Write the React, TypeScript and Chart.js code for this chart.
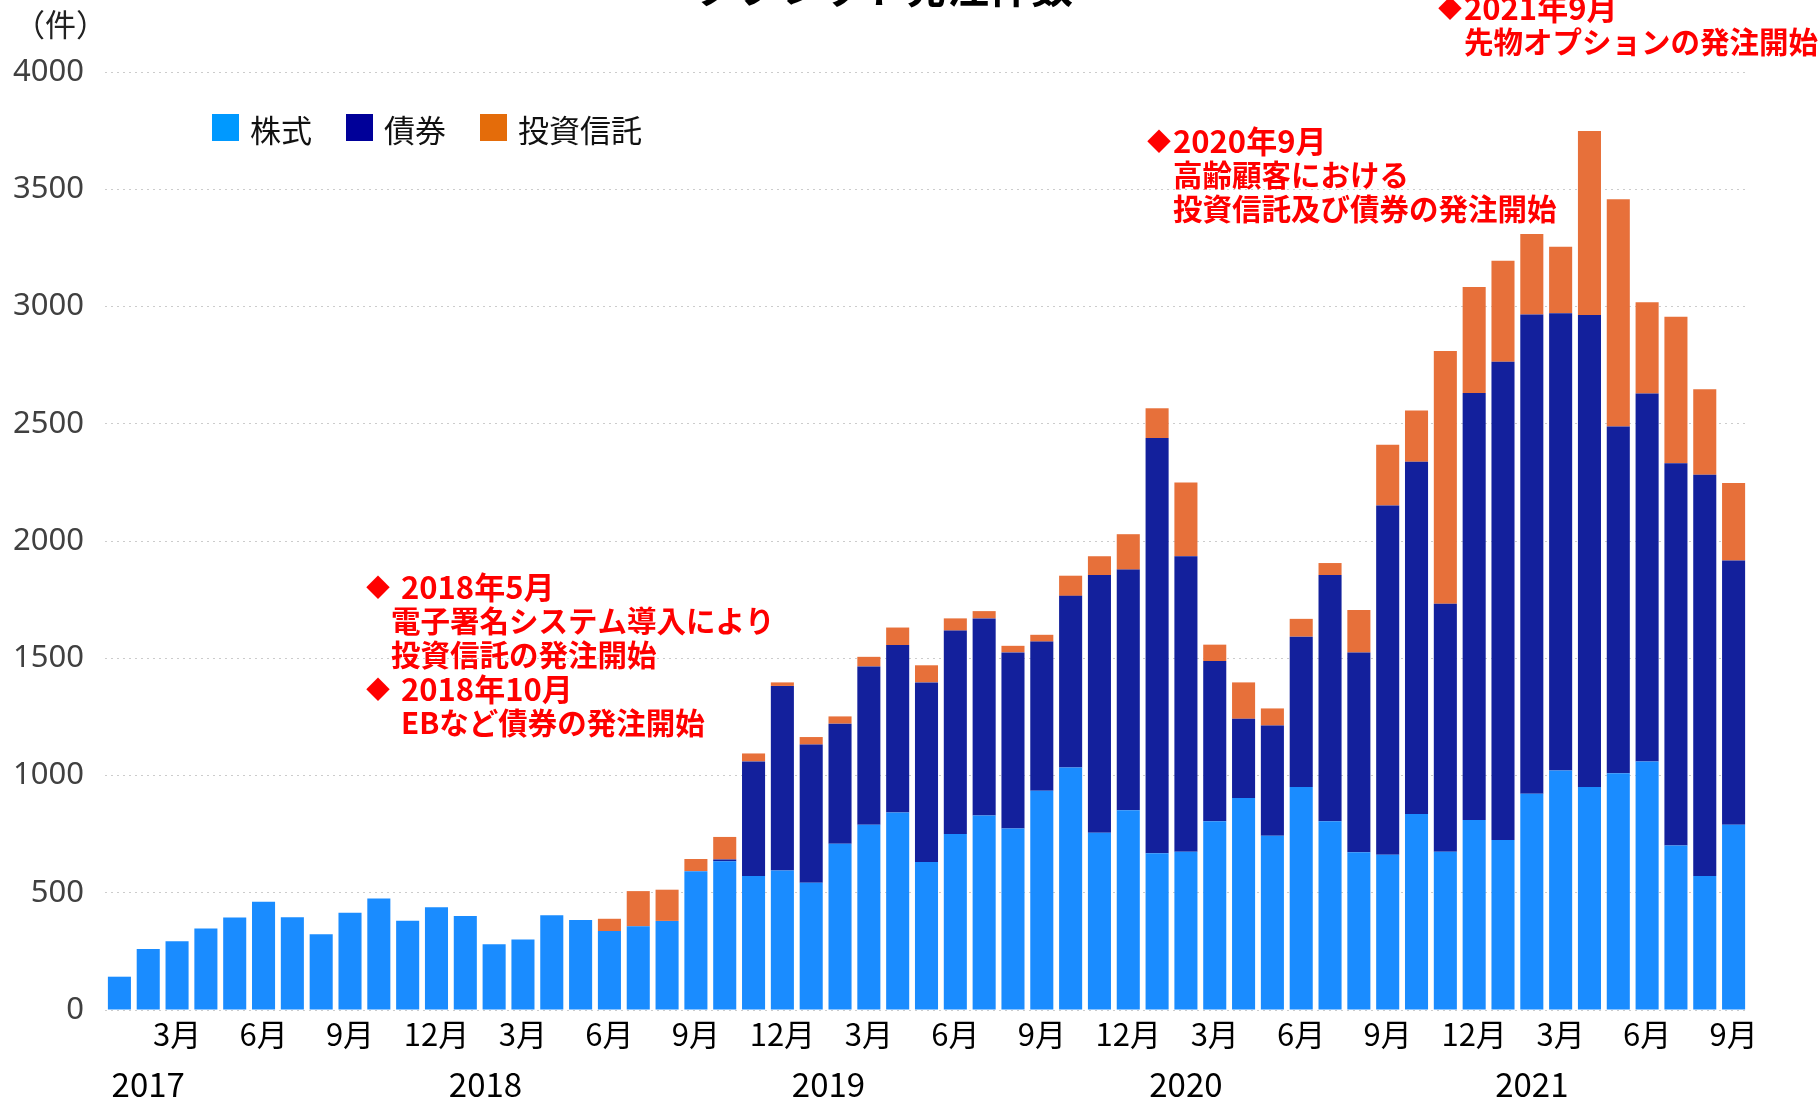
import React, { useEffect, useRef } from 'react';
import { Chart, registerables } from 'chart.js';

Chart.register(...registerables);

// ---- data ----
const categories = [
  '2017/1', '2017/2', '2017/3', '2017/4', '2017/5', '2017/6', '2017/7', '2017/8', '2017/9', '2017/10', '2017/11', '2017/12',
  '2018/1', '2018/2', '2018/3', '2018/4', '2018/5', '2018/6', '2018/7', '2018/8', '2018/9', '2018/10', '2018/11', '2018/12',
  '2019/1', '2019/2', '2019/3', '2019/4', '2019/5', '2019/6', '2019/7', '2019/8', '2019/9', '2019/10', '2019/11', '2019/12',
  '2020/1', '2020/2', '2020/3', '2020/4', '2020/5', '2020/6', '2020/7', '2020/8', '2020/9', '2020/10', '2020/11', '2020/12',
  '2021/1', '2021/2', '2021/3', '2021/4', '2021/5', '2021/6', '2021/7', '2021/8', '2021/9',
];

const stockCounts = [
  142, 260, 293, 348, 394, 462, 395, 323, 415, 476, 381, 438,
  401, 280, 301, 404, 384, 337, 357, 380, 592, 634, 571, 595,
  543, 709, 790, 842, 631, 751, 829, 774, 935, 1034, 756, 852,
  668, 675, 805, 904, 743, 951, 805, 673, 662, 836, 675, 810,
  725, 922, 1021, 951, 1010, 1060, 701, 571, 790,
];

const bondCounts = [
  0, 0, 0, 0, 0, 0, 0, 0, 0, 0, 0, 0,
  0, 0, 0, 0, 0, 0, 0, 0, 0, 8, 489, 787,
  589, 512, 675, 714, 766, 867, 841, 751, 636, 732, 1099, 1026,
  1771, 1260, 683, 338, 470, 641, 1050, 852, 1489, 1502, 1057, 1821,
  2039, 2044, 1950, 2013, 1478, 1569, 1631, 1712, 1127,
];

const fundCounts = [
  0, 0, 0, 0, 0, 0, 0, 0, 0, 0, 0, 0,
  0, 0, 0, 0, 0, 52, 150, 133, 52, 96, 34, 15,
  32, 31, 41, 75, 73, 52, 31, 28, 29, 86, 80, 151,
  127, 314, 70, 155, 73, 76, 51, 181, 259, 218, 1078, 452,
  431, 343, 284, 784, 969, 389, 624, 364, 330,
];

const seriesNames = ['株式', '債券', '投資信託'];
const yearLabels = ['2017', '2018', '2019', '2020', '2021'];
const yMin = 0;
const yMax = 4000;
const yStep = 500;
const titleText = 'タブレット発注件数';
const unitText = '（件）';

const annotationBlocks = [
  {
    x: 366, y: 587,
    lines: [
      { mark: '◆', text: '2018年5月', date: true },
      { mark: '', text: '電子署名システム導入により', date: false },
      { mark: '', text: '投資信託の発注開始', date: false },
      { mark: '◆', text: '2018年10月', date: true },
      { mark: '', text: 'EBなど債券の発注開始', date: true },
    ],
  },
  {
    x: 1147, y: 141,
    lines: [
      { mark: '◆', text: '2020年9月', date: true },
      { mark: '', text: '高齢顧客における', date: false },
      { mark: '', text: '投資信託及び債券の発注開始', date: false },
    ],
  },
  {
    x: 1438, y: 8,
    lines: [
      { mark: '◆', text: '2021年9月', date: true },
      { mark: '', text: '先物オプションの発注開始', date: false },
    ],
  },
];

// ---- styles ----
const barColors = ['#1A8CFF', '#13209C', '#E7703A'];
const legendColors = ['#0099FF', '#000099', '#E46C0A'];
const CJK = '"Noto Sans CJK JP", "Noto Sans", sans-serif';
const yearAnchorIndex = [1, 12.7, 24.6, 37, 49];

const overlayPlugin = {
  id: 'overlay',
  afterDraw(chart: any) {
    const ctx = chart.ctx as CanvasRenderingContext2D;
    const xs = chart.scales.x;
    ctx.save();

    // title (cut off at the top as in the reference)
    ctx.font = `bold 42px ${CJK}`;
    ctx.fillStyle = '#000';
    ctx.textAlign = 'center';
    ctx.textBaseline = 'alphabetic';
    ctx.fillText(titleText, 884, 3);

    // unit label
    ctx.font = `31px ${CJK}`;
    ctx.fillStyle = '#222';
    ctx.textAlign = 'left';
    ctx.textBaseline = 'middle';
    ctx.fillText(unitText, 14, 24);

    // legend
    const legendX = [212, 346, 480];
    ctx.font = `31px ${CJK}`;
    seriesNames.forEach((name, i) => {
      ctx.fillStyle = legendColors[i];
      ctx.fillRect(legendX[i], 114, 27, 27);
      ctx.fillStyle = '#111';
      ctx.fillText(name, legendX[i] + 38, 130);
    });

    // year labels
    ctx.font = `33px ${CJK}`;
    ctx.fillStyle = '#000';
    ctx.textAlign = 'center';
    yearLabels.forEach((yl, i) => {
      ctx.fillText(yl, xs.getPixelForValue(yearAnchorIndex[i]), 1084);
    });

    // annotations
    ctx.fillStyle = '#FF0000';
    ctx.textAlign = 'left';
    ctx.textBaseline = 'middle';
    annotationBlocks.forEach((b) => {
      const indent = b.x < 1000 ? 35 : 26;
      const indent2 = b.x < 1000 ? 25 : 26;
      b.lines.forEach((ln, j) => {
        const yy = b.y + j * 34;
        if (ln.mark) {
          ctx.font = `bold 24px ${CJK}`;
          ctx.fillText(ln.mark, b.x, yy);
        }
        ctx.font = ln.date && ln.mark ? `bold 31px ${CJK}` : `bold 29.5px ${CJK}`;
        ctx.fillText(ln.text, b.x + (ln.date ? indent : indent2), yy);
      });
    });

    ctx.restore();
  },
};

export default function App() {
  const canvasRef = useRef<HTMLCanvasElement | null>(null);

  useEffect(() => {
    document.body.style.margin = '0';
    document.body.style.overflow = 'hidden';
    const canvas = canvasRef.current;
    if (!canvas) return;
    const chart = new Chart(canvas, {
      type: 'bar',
      data: {
        labels: categories,
        datasets: [
          { label: seriesNames[0], data: stockCounts, backgroundColor: barColors[0] },
          { label: seriesNames[1], data: bondCounts, backgroundColor: barColors[1] },
          { label: seriesNames[2], data: fundCounts, backgroundColor: barColors[2] },
        ],
      },
      options: {
        responsive: false,
        animation: false,
        devicePixelRatio: 1,
        layout: { padding: { left: 0, right: 72, top: 72, bottom: 0 } },
        datasets: { bar: { categoryPercentage: 0.8, barPercentage: 1.0, borderWidth: 0 } },
        plugins: {
          legend: { display: false },
          title: { display: false },
          tooltip: { enabled: false },
        },
        scales: {
          x: {
            stacked: true,
            grid: { display: false },
            border: { display: false },
            ticks: {
              autoSkip: false,
              maxRotation: 0,
              minRotation: 0,
              padding: -2,
              color: '#000',
              font: { family: CJK, size: 31 },
              callback: (_v: any, i: number) => {
                const m = parseInt(categories[i].split('/')[1], 10);
                return m % 3 === 0 ? `${m}月` : '';
              },
            },
            afterFit: (s: any) => {
              s.height = 89;
            },
          },
          y: {
            stacked: true,
            min: yMin,
            max: yMax,
            ticks: {
              stepSize: yStep,
              padding: 21,
              color: '#404040',
              font: { family: '"Noto Sans", sans-serif', size: 31 },
              callback: (v: any) => String(v),
            },
            grid: { color: '#cccccc', lineWidth: 1, drawTicks: false },
            border: { display: false, dash: [2, 4] },
            afterFit: (s: any) => {
              s.width = 105;
            },
          },
        },
      },
      plugins: [overlayPlugin],
    } as any);
    return () => chart.destroy();
  }, []);

  return (
    <div style={{ width: 1820, height: 1099, overflow: 'hidden' }}>
      <canvas ref={canvasRef} width={1820} height={1099} style={{ display: 'block' }} />
    </div>
  );
}
